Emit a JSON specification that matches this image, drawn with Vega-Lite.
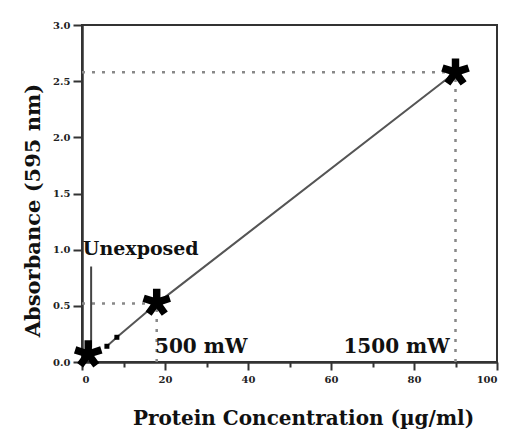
{
  "$schema": "https://vega.github.io/schema/vega-lite/v6.json",
  "width": 415,
  "height": 337,
  "autosize": "none",
  "padding": {"left": 82, "top": 25, "right": 10, "bottom": 76},
  "background": "white",
  "config": {
    "view": {"stroke": "#333", "strokeWidth": 2},
    "axis": {"grid": false, "domainColor": "#333", "domainWidth": 2.5, "tickColor": "#333", "tickWidth": 2,
      "labelFont": "DejaVu Serif", "labelFontWeight": "bold", "labelFontSize": 10, "labelColor": "#222",
      "titleFont": "DejaVu Serif", "titleFontWeight": "bold", "titleColor": "#111"}
  },
  "datasets": {
    "stars": [
      {"conc": 1.5, "abs": 0.07, "label": "Unexposed"},
      {"conc": 18, "abs": 0.53, "label": "500 mW"},
      {"conc": 90, "abs": 2.58, "label": "1500 mW"}
    ],
    "squares": [
      {"conc": 6, "abs": 0.14},
      {"conc": 8.4, "abs": 0.22}
    ],
    "fit": [
      {"conc": 6, "abs": 0.14},
      {"conc": 8.4, "abs": 0.22},
      {"conc": 18, "abs": 0.52},
      {"conc": 90, "abs": 2.58}
    ],
    "guides": [
      {"x": 0, "x2": 18, "y": 0.52, "y2": 0.52},
      {"x": 18, "x2": 18, "y": 0, "y2": 0.52},
      {"x": 0, "x2": 90, "y": 2.58, "y2": 2.58},
      {"x": 90, "x2": 90, "y": 0, "y2": 2.58}
    ],
    "pointer": [
      {"x": 2.2, "y": 0.85, "y2": 0.13}
    ],
    "notes": [
      {"x": 0.2, "y": 0.95, "text": "Unexposed", "size": 19},
      {"x": 17.6, "y": 0.08, "text": "500 mW", "size": 20},
      {"x": 63, "y": 0.08, "text": "1500 mW", "size": 20}
    ]
  },
  "layer": [
    {
      "data": {"name": "guides"},
      "mark": {"type": "rule", "color": "#888", "strokeWidth": 2.5, "strokeDash": [3, 7]},
      "encoding": {
        "x": {"field": "x", "type": "quantitative", "scale": {"domain": [0, 100], "nice": false},
          "axis": {"values": [0, 10, 20, 30, 40, 50, 60, 70, 80, 90, 100],
            "labelExpr": "datum.value % 20 == 0 ? format(datum.value, 'd') : ''",
            "tickSize": {"condition": {"test": "datum.value % 20 == 0", "value": 8}, "value": 5},
            "labelPadding": 4,
            "title": "Protein Concentration (µg/ml)", "titleFontSize": 20,
            "titleX": 221, "titleY": 56, "titleBaseline": "middle", "titleAlign": "center"}},
        "x2": {"field": "x2"},
        "y": {"field": "y", "type": "quantitative", "scale": {"domain": [0, 3], "nice": false},
          "axis": {"values": [0, 0.25, 0.5, 0.75, 1, 1.25, 1.5, 1.75, 2, 2.25, 2.5, 2.75, 3],
            "labelExpr": "datum.value % 0.5 == 0 ? format(datum.value, '.1f') : ''",
            "tickSize": {"condition": {"test": "datum.value % 0.5 == 0", "value": 9}, "value": 4},
            "labelPadding": 3,
            "title": "Absorbance (595 nm)", "titleFontSize": 21,
            "titleX": -49, "titleY": 185, "titleAngle": 270, "titleBaseline": "middle", "titleAlign": "center"}},
        "y2": {"field": "y2"}
      }
    },
    {
      "data": {"name": "fit"},
      "mark": {"type": "line", "color": "#555", "strokeWidth": 2},
      "encoding": {
        "x": {"field": "conc", "type": "quantitative"},
        "y": {"field": "abs", "type": "quantitative"}
      }
    },
    {
      "data": {"name": "pointer"},
      "mark": {"type": "rule", "color": "#444", "strokeWidth": 2},
      "encoding": {
        "x": {"field": "x", "type": "quantitative"},
        "y": {"field": "y", "type": "quantitative"},
        "y2": {"field": "y2"}
      }
    },
    {
      "data": {"name": "squares"},
      "mark": {"type": "point", "shape": "square", "filled": true, "color": "black", "size": 25, "opacity": 1},
      "encoding": {
        "x": {"field": "conc", "type": "quantitative"},
        "y": {"field": "abs", "type": "quantitative"}
      }
    },
    {
      "data": {"name": "stars"},
      "mark": {"type": "point", "filled": true, "color": "black", "opacity": 1, "size": 760,
        "shape": "M-0.27,-1L0.27,-1L0.27,-0.371L0.868,-0.566L1.034,-0.052L0.437,0.142L0.806,0.65L0.37,0.968L0,0.459L-0.37,0.968L-0.806,0.65L-0.437,0.142L-1.034,-0.052L-0.868,-0.566L-0.27,-0.371Z"},
      "encoding": {
        "x": {"field": "conc", "type": "quantitative"},
        "y": {"field": "abs", "type": "quantitative"}
      }
    },
    {
      "data": {"name": "notes"},
      "mark": {"type": "text", "font": "DejaVu Serif", "fontWeight": "bold", "align": "left", "baseline": "alphabetic", "color": "#111"},
      "encoding": {
        "x": {"field": "x", "type": "quantitative"},
        "y": {"field": "y", "type": "quantitative"},
        "text": {"field": "text"},
        "size": {"field": "size", "type": "quantitative", "scale": null}
      }
    }
  ]
}
